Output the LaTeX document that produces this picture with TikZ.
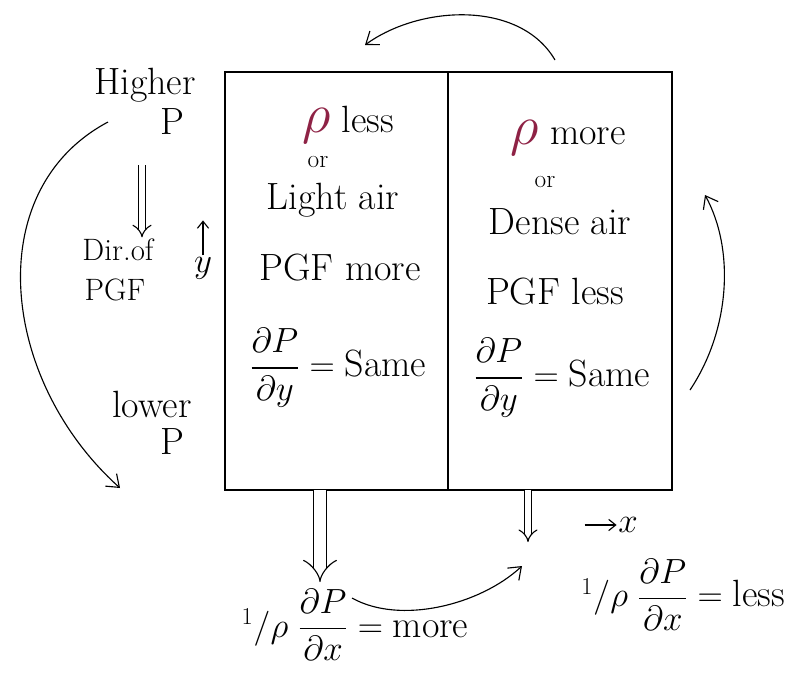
\documentclass[tikz,border=0pt]{standalone}
\usepackage{amsmath}
\usetikzlibrary{arrows.meta, positioning, calc}
\definecolor{rhored}{HTML}{8E2245}

\newcommand{\bigrho}{\textcolor{rhored}{\scalebox{1.6}{$\rho$}}}

\begin{document}
\begin{tikzpicture}[x=0.025cm, y=-0.025cm,
    txt/.style={font=\fontsize{27}{31}\selectfont, inner sep=1pt},
    side/.style={font=\fontsize{22}{26}\selectfont, inner sep=1pt},
    tiny/.style={font=\fontsize{18}{20}\selectfont, inner sep=1pt},
    curvearrow/.style={thick, -{Straight Barb[length=8pt, width=12pt]}},
    hollow/.style={double, double distance=#1, thick, -{Implies[length=9pt]}},
]
    \useasboundingbox (0,0) rectangle (806,679);

    % the two cells
    \draw[thick] (225,72) rectangle (672,490);
    \draw[thick] (448,72) -- (448,490);

    % left side: pressure labels
    \node[txt] (higher) at (145,85) {Higher};
    \node[txt] (hp) at (172,122) {P};
    \node[side] (dir) at (118,250) {Dir.of};
    \node[side] (pgf) at (115,290) {PGF};
    \node[txt] (lower) at (152,404) {lower};
    \node[txt] (lp) at (172,442) {P};
    \coordinate (pgftop) at (142,165);
    \draw[hollow=4pt] (pgftop) -- (dir.north -| pgftop);
    \node[txt] (yax) at (203,268) {$y$};
    \draw[thick, -{Straight Barb[length=5pt, width=8pt]}] (yax.north) -- ++(0,-35);
    \coordinate (highstart) at (108,122);
    \coordinate (lowend) at (120,488);
    \draw[curvearrow] (highstart) .. controls (-20,190) and (0,380) .. (lowend);

    % left cell: light air
    \node[txt] (rholess) at (348,125) {\bigrho\ less};
    \node[tiny] (or1) at (318,162) {or};
    \node[txt] (light) at (333,200) {Light air};
    \node[txt] (pgfmore) at (340,268) {PGF more};
    \node[txt] (dpy1) at (338,368) {$\dfrac{\partial P}{\partial y} = \text{Same}$};

    % right cell: dense air
    \node[txt] (rhomore) at (568,138) {\bigrho\ more};
    \node[tiny] (or2) at (545,182) {or};
    \node[txt] (dense) at (560,222) {Dense air};
    \node[txt] (pgfless) at (555,292) {PGF less};
    \node[txt] (dpy2) at (562,378) {$\dfrac{\partial P}{\partial y} = \text{Same}$};

    % circulation arrows
    \coordinate (topstart) at (555,60);
    \coordinate (topend) at (365,45);
    \draw[curvearrow] (topstart) .. controls (520,0) and (420,5) .. (topend);
    \coordinate (rightstart) at (690,390);
    \coordinate (rightend) at (705,195);
    \draw[curvearrow] (rightstart) .. controls (730,330) and (735,250) .. (rightend);

    % below: horizontal gradient
    \node[txt] (dpxmore) at (355,625) {$^1/\rho\;\dfrac{\partial P}{\partial x} = \text{more}$};
    \node[txt] (dpxless) at (683,595) {$^1/\rho\;\dfrac{\partial P}{\partial x} = \text{less}$};
    \draw[hollow=8pt] (320,490) -- (320,582);
    \draw[hollow=4pt] (528,490) -- (528,542);
    \node[txt] (xax) at (628,525) {$x$};
    \draw[thick, -{Straight Barb[length=5pt, width=8pt]}] (xax.west) ++(-32,0) -- (xax.west);
    \coordinate (morestart) at (352,598);
    \coordinate (lessend) at (522,566);
    \draw[curvearrow] (morestart) .. controls (400,625) and (480,605) .. (lessend);
\end{tikzpicture}
\end{document}
